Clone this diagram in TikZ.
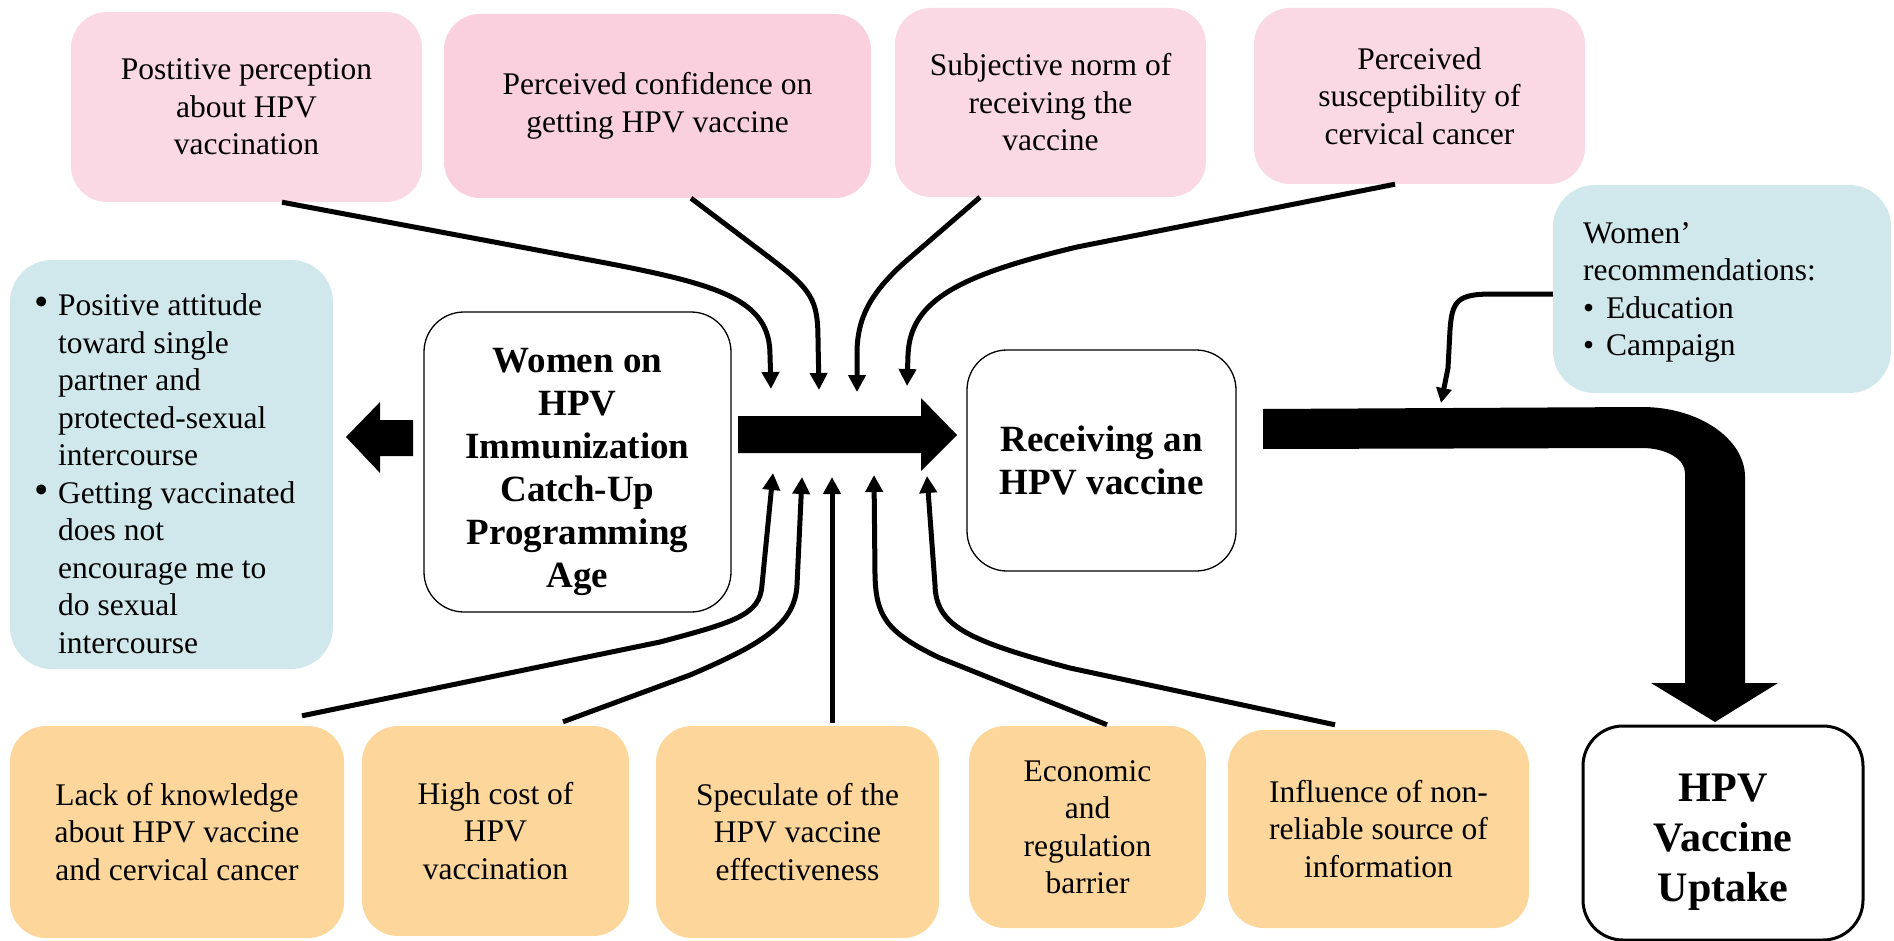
\documentclass[tikz,border=0pt]{standalone}
\usepackage{fontspec}
\usepackage{graphicx}
\setmainfont{Liberation Serif}
\usetikzlibrary{arrows.meta}
\definecolor{pinkA}{HTML}{FBD9E4}
\definecolor{pinkB}{HTML}{FAD0DF}
\definecolor{tealA}{HTML}{D0E8EC}
\definecolor{orangeA}{HTML}{FDD69B}
\newcommand\bulx{\llap{\scalebox{1.3}{\textbullet}\hspace{9pt}}}
\begin{document}
\begin{tikzpicture}[x=1pt,y=-1pt,
  box/.style={rectangle, rounded corners=36pt, inner sep=0pt, align=center,
    font=\fontsize{31.5}{37.5}\selectfont},
  pinkbox/.style={box, fill=pinkA},
  orangebox/.style={box, fill=orangeA},
  tealbox/.style={box, fill=tealA, rounded corners=42pt},
  whitebox/.style={box, draw=black, line width=1.3pt, fill=white, rounded corners=40pt,
    font=\bfseries\fontsize{37}{43}\selectfont},
  plaintext/.style={anchor=north west, align=left, inner sep=0pt,
    font=\fontsize{31.5}{37.5}\selectfont},
  flow/.style={line width=5pt, line join=round, -{Triangle[width=17pt,length=17pt]}},
  fat/.style={fill=black},
]
\useasboundingbox (0,0) rectangle (1894,941);

% top pink boxes
\node[pinkbox, minimum width=351pt, minimum height=190pt] (p1) at (246.5,107)
  {Postitive perception\\about HPV\\vaccination};
\node[pinkbox, fill=pinkB, minimum width=427pt, minimum height=184pt] (p2) at (657.5,106)
  {Perceived confidence on\\getting HPV vaccine};
\node[pinkbox, minimum width=311pt, minimum height=189pt] (p3) at (1050.5,102.5)
  {Subjective norm of\\receiving the\\vaccine};
\node[pinkbox, minimum width=331pt, minimum height=176pt] (p4) at (1419.5,96)
  {Perceived\\susceptibility of\\cervical cancer};

% teal boxes
\node[tealbox, minimum width=323pt, minimum height=409pt] (att) at (171.5,464.5) {};
\node[plaintext] (attT) at (58,293.5)
  {\bulx Positive attitude\\toward single\\partner and\\protected-sexual\\intercourse\\%
   \bulx Getting vaccinated\\does not\\encourage me to\\do sexual\\intercourse};
\node[tealbox, minimum width=338pt, minimum height=208pt] (recs) at (1722,289) {};
\node[plaintext] (recT) at (1583,222)
  {Women’\\recommendations:\\\textbullet\hspace{12pt}Education\\\textbullet\hspace{12pt}Campaign};

% white boxes
\node[whitebox, minimum width=307pt, minimum height=300pt] (women) at (577.5,462)
  {\rule{0pt}{45pt}Women on\\HPV\\Immunization\\Catch-Up\\Programming\\Age};
\node[whitebox, minimum width=269pt, minimum height=221pt] (recv) at (1101.5,460.5)
  {Receiving an\\HPV vaccine};
\node[whitebox, line width=3pt, minimum width=280pt, minimum height=214pt,
  font=\bfseries\fontsize{42}{50}\selectfont] (uptake) at (1723,833)
  {\rule{0pt}{46pt}HPV\\Vaccine\\Uptake};

% bottom orange boxes
\node[orangebox, minimum width=334pt, minimum height=212pt] (lack) at (177,832)
  {Lack of knowledge\\about HPV vaccine\\and cervical cancer};
\node[orangebox, minimum width=267pt, minimum height=210pt] (cost) at (495.5,831)
  {High cost of\\HPV\\vaccination};
\node[orangebox, minimum width=283pt, minimum height=212pt] (spec) at (797.5,832)
  {Speculate of the\\HPV vaccine\\effectiveness};
\node[orangebox, minimum width=237pt, minimum height=202pt] (econ) at (1087.5,827)
  {Economic\\and\\regulation\\barrier};
\node[orangebox, minimum width=301pt, minimum height=198pt] (infl) at (1378.5,829)
  {Influence of non-\\reliable source of\\information};

% arrow tips
\coordinate (t1) at (771,389);
\coordinate (t2) at (819,390);
\coordinate (t3) at (857,392);
\coordinate (t4) at (907,386);
\coordinate (b1) at (773,473);
\coordinate (b2) at (802,477);
\coordinate (b3) at (832,477);
\coordinate (b4) at (874,475);
\coordinate (b5) at (927,476);
\coordinate (rt) at (1441,403);

% fat arrows
\fill[fat] (413,420) -- (380,420) -- (380,402) -- (346,437) -- (380,473) -- (380,456) -- (413,456) -- cycle;
\fill[fat] (738,416) -- (921,416) -- (921,398) -- (957,435) -- (921,471) -- (921,453) -- (738,453) -- cycle;
\fill[fat] (1263,409) -- (1642,407) .. controls (1699,407) and (1745,439) .. (1745,477)
  -- (1745,683) -- (1778,683) -- (1715,722) -- (1651,683) -- (1685,683) -- (1685,473)
  .. controls (1685,459) and (1666,448) .. (1642,448) -- (1263,449) -- cycle;

% top connectors
\draw[flow] ([xshift=35.5pt]p1.south) -- (606,263) .. controls (720,285) and (770,300) .. (770,355) -- (t1);
\draw[flow] ([xshift=33.5pt]p2.south) -- (770,258) .. controls (812,290) and (818,300) .. (818,340) -- (t2);
\draw[flow] ([xshift=-70.5pt]p3.south) -- (905,262) .. controls (868,295) and (858,320) .. (857,350) -- (t3);
\draw[flow] ([xshift=-24.5pt]p4.south) -- (1077,247) .. controls (960,275) and (910,300) .. (908,355) -- (t4);

% bottom connectors
\draw[flow] ([xshift=125pt,yshift=10pt]lack.north) -- (660,642) .. controls (735,622) and (760,615) .. (762,585) -- (b1);
\draw[flow] ([xshift=67.5pt,yshift=4pt]cost.north) -- (690,675) .. controls (760,645) and (795,625) .. (797,585) -- (b2);
\draw[flow] ([xshift=34.5pt,yshift=3pt]spec.north) -- (b3);
\draw[flow] ([xshift=19.5pt,yshift=1pt]econ.north) -- (940,658) .. controls (885,632) and (876,615) .. (875,575) -- (b4);
\draw[flow] ([xshift=-43.5pt,yshift=5pt]infl.north) -- (1070,668) .. controls (965,640) and (936,625) .. (935,585) -- (b5);

% recommendation connector
\draw[line width=5pt, line join=round, -{Triangle[width=15pt,length=15pt]}]
  ([yshift=-5pt]recs.west) -- (1493,294) .. controls (1458,294) and (1452,300) .. (1450,330) -- (1448,368) -- (rt);
\end{tikzpicture}
\end{document}
